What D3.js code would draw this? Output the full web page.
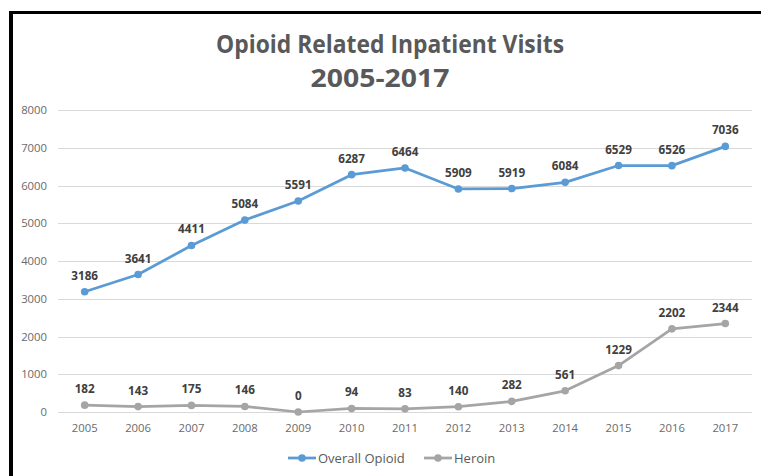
<!DOCTYPE html>
<html>
<head>
<meta charset="utf-8">
<script src="https://cdn.jsdelivr.net/npm/d3@7"></script>
<style>
  html, body { margin: 0; padding: 0; background: #fff; }
  svg { display: block; }
</style>
</head>
<body>
<svg id="chart" width="761" height="476"></svg>
<script>
const years = ["2005","2006","2007","2008","2009","2010","2011","2012","2013","2014","2015","2016","2017"];
const overallOpioid = [3186,3641,4411,5084,5591,6287,6464,5909,5919,6084,6529,6526,7036];
const heroin = [182,143,175,146,0,94,83,140,282,561,1229,2202,2344];
const yTicks = [0,1000,2000,3000,4000,5000,6000,7000,8000];
const titleLines = ["Opioid Related Inpatient Visits", "2005-2017"];
const seriesNames = ["Overall Opioid", "Heroin"];

const svg = d3.select("#chart");
const W = 761, H = 476;
const plot = { left: 58, right: 752, top: 110, bottom: 412 };
const blue = "#5B9BD5", gray = "#A5A5A5";
const FONT = "'Open Sans', 'Liberation Sans', Arial, sans-serif";

svg.append("rect").attr("x",0).attr("y",0).attr("width",W).attr("height",H).attr("fill","#fff");

// frame (top and left black border)
svg.append("rect").attr("x",9).attr("y",11).attr("width",W-9).attr("height",3).attr("fill","#000");
svg.append("rect").attr("x",9).attr("y",11).attr("width",4).attr("height",H-11).attr("fill","#000");

const x = d3.scaleBand().domain(years).range([plot.left, plot.right]).padding(0);
const cx = d => x(d) + x.bandwidth()/2;
const y = d3.scaleLinear().domain([0,8000]).range([plot.bottom, plot.top]);

// title
svg.append("text").attr("x",390).attr("y",53).attr("text-anchor","middle")
  .attr("font-family",FONT).attr("font-weight","bold").attr("font-size",24.5)
  .attr("fill","#595959").attr("textLength",348).attr("lengthAdjust","spacingAndGlyphs")
  .text(titleLines[0]);
svg.append("text").attr("x",380).attr("y",87).attr("text-anchor","middle")
  .attr("font-family",FONT).attr("font-weight","bold").attr("font-size",24.5)
  .attr("fill","#595959").attr("textLength",139).attr("lengthAdjust","spacingAndGlyphs")
  .text(titleLines[1]);

// y axis with gridlines
const yAxis = d3.axisLeft(y).tickValues(yTicks).tickSize(-(plot.right-plot.left)).tickPadding(11).tickFormat(d3.format("d"));
const gy = svg.append("g").attr("transform",`translate(${plot.left},0)`).call(yAxis);
gy.select(".domain").remove();
gy.selectAll(".tick line").attr("stroke","#D9D9D9").attr("stroke-width",1).attr("shape-rendering","crispEdges");
gy.selectAll(".tick text").attr("font-family",FONT).attr("font-size",11.3).attr("fill","#6a6a6a");

// x axis
const xAxis = d3.axisBottom(x).tickSize(0).tickPadding(12);
const gx = svg.append("g").attr("transform",`translate(0,${plot.bottom})`).call(xAxis);
gx.select(".domain").remove();
gx.selectAll(".tick text").attr("font-family",FONT).attr("font-size",11.3).attr("fill","#6a6a6a");

function drawSeries(values, color) {
  const data = years.map((yr,i)=>({yr, v: values[i]}));
  const line = d3.line().x(d=>cx(d.yr)).y(d=>y(d.v));
  svg.append("path").datum(data).attr("d",line).attr("fill","none")
    .attr("stroke",color).attr("stroke-width",2.75).attr("stroke-linejoin","round").attr("stroke-linecap","round");
  svg.append("g").selectAll("circle").data(data).join("circle")
    .attr("cx",d=>cx(d.yr)).attr("cy",d=>y(d.v)).attr("r",3.8).attr("fill",color);
  svg.append("g").selectAll("text").data(data).join("text")
    .attr("x",d=>cx(d.yr)).attr("y",d=>y(d.v)-12).attr("text-anchor","middle")
    .attr("font-family",FONT).attr("font-weight","bold").attr("font-size",11.7).attr("fill","#404040")
    .text(d=>d.v);
}
drawSeries(overallOpioid, blue);
drawSeries(heroin, gray);

// legend
const legend = [
  { name: seriesNames[0], color: blue, x0: 288 },
  { name: seriesNames[1], color: gray, x0: 424 }
];
const ly = 458;
const lg = svg.append("g");
legend.forEach(l => {
  lg.append("line").attr("x1",l.x0).attr("x2",l.x0+28).attr("y1",ly).attr("y2",ly)
    .attr("stroke",l.color).attr("stroke-width",2.75);
  lg.append("circle").attr("cx",l.x0+14).attr("cy",ly).attr("r",3.8).attr("fill",l.color);
  lg.append("text").attr("x",l.x0+30).attr("y",ly+4.6).attr("font-family",FONT).attr("font-size",13)
    .attr("fill","#595959").text(l.name);
});
</script>
</body>
</html>
